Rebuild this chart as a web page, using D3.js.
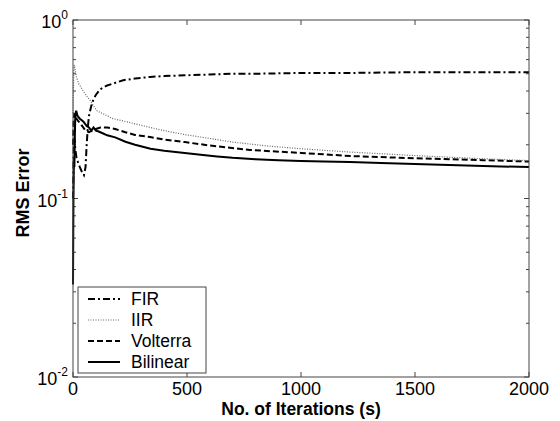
<!DOCTYPE html>
<html>
<head>
<meta charset="utf-8">
<script src="https://cdn.jsdelivr.net/npm/d3@7"></script>
<style>
  body { margin: 0; background: #fff; }
  svg { font-family: Arial, "Liberation Sans", sans-serif; }
</style>
</head>
<body>
<svg id="chart"></svg>
<script>
var width = 560,
  height = 421;

var margin = { top: 20, right: 31, bottom: 44, left: 73 };

// iterations / RMS error
var firIter = [0, 3, 6, 10, 15, 22, 30, 40, 48, 55, 60, 65, 70, 80, 90, 100, 120, 150, 175, 220, 272, 338, 400, 491, 600, 700, 800, 1000, 1215, 1500, 1800, 2000];
var firErr = [0.1, 0.19, 0.22, 0.19, 0.17, 0.16, 0.15, 0.14, 0.135, 0.15, 0.2, 0.25, 0.29, 0.33, 0.36, 0.38, 0.41, 0.43, 0.44, 0.46, 0.47, 0.48, 0.485, 0.49, 0.495, 0.5, 0.5, 0.505, 0.505, 0.51, 0.51, 0.51];

var iirIter = [0, 2, 4, 6, 9, 15, 25, 35, 45, 60, 75, 90, 105, 140, 175, 220, 272, 338, 400, 491, 600, 700, 850, 1000, 1215, 1500, 1750, 2000];
var iirErr = [0.3, 0.42, 0.52, 0.56, 0.53, 0.48, 0.44, 0.42, 0.4, 0.375, 0.355, 0.33, 0.31, 0.295, 0.28, 0.272, 0.262, 0.25, 0.24, 0.228, 0.217, 0.207, 0.197, 0.19, 0.182, 0.174, 0.168, 0.163];

var volIter = [0, 3, 6, 10, 15, 25, 40, 55, 70, 85, 100, 120, 150, 185, 230, 272, 338, 400, 491, 600, 776, 1000, 1215, 1500, 1800, 2000];
var volErr = [0.2, 0.28, 0.3, 0.29, 0.28, 0.27, 0.255, 0.24, 0.235, 0.24, 0.245, 0.25, 0.25, 0.245, 0.235, 0.227, 0.221, 0.214, 0.207, 0.198, 0.187, 0.18, 0.173, 0.168, 0.164, 0.161];

var bilIter = [0, 2, 4, 6, 8, 10, 14, 20, 30, 45, 60, 70, 80, 90, 100, 110, 130, 150, 185, 230, 272, 340, 400, 490, 560, 632, 700, 800, 900, 1000, 1100, 1215, 1350, 1500, 1650, 1800, 2000];
var bilErr = [0.033, 0.1, 0.17, 0.15, 0.22, 0.29, 0.31, 0.29, 0.28, 0.27, 0.255, 0.25, 0.24, 0.25, 0.24, 0.238, 0.232, 0.226, 0.22, 0.208, 0.2, 0.19, 0.185, 0.18, 0.176, 0.172, 0.169, 0.166, 0.164, 0.162, 0.161, 0.16, 0.158, 0.156, 0.154, 0.152, 0.15];

var names = ['FIR', 'IIR', 'Volterra', 'Bilinear'];
var xTicks = [0, 500, 1000, 1500, 2000];
var yDecades = [0.01, 0.1, 1];

var series = [
  { name: names[0], iter: firIter, err: firErr, dash: '7,3,2,3', color: '#000', w: 2 },
  { name: names[1], iter: iirIter, err: iirErr, dash: '1,1.5', color: '#666', w: 1.2 },
  { name: names[2], iter: volIter, err: volErr, dash: '6,3', color: '#000', w: 2 },
  { name: names[3], iter: bilIter, err: bilErr, dash: null, color: '#000', w: 2 }
];

var svg = d3.select('#chart')
  .attr('width', width)
  .attr('height', height);

var x = d3.scaleLinear()
  .domain([0, 2000])
  .range([margin.left, width - margin.right]);

var y = d3.scaleLog()
  .domain([0.01, 1])
  .range([height - margin.bottom, margin.top]);

var x0 = x.range()[0], x1 = x.range()[1];
var y0 = y.range()[0], y1 = y.range()[1];

// minor log ticks (2..9 in each decade)
var minor = [];
[0.01, 0.1].forEach(function(d) {
  for (var k = 2; k <= 9; k++) minor.push(d * k);
});

var ticks = svg.append('g')
  .attr('stroke', '#444')
  .attr('stroke-width', 1);

xTicks.forEach(function(t) {
  ticks.append('line').attr('x1', x(t)).attr('x2', x(t)).attr('y1', y0).attr('y2', y0 - 5);
  ticks.append('line').attr('x1', x(t)).attr('x2', x(t)).attr('y1', y1).attr('y2', y1 + 5);
});
yDecades.forEach(function(t) {
  ticks.append('line').attr('x1', x0).attr('x2', x0 + 5).attr('y1', y(t)).attr('y2', y(t));
  ticks.append('line').attr('x1', x1).attr('x2', x1 - 5).attr('y1', y(t)).attr('y2', y(t));
});
minor.forEach(function(t) {
  ticks.append('line').attr('x1', x0).attr('x2', x0 + 3).attr('y1', y(t)).attr('y2', y(t));
  ticks.append('line').attr('x1', x1).attr('x2', x1 - 3).attr('y1', y(t)).attr('y2', y(t));
});

var line = d3.line()
  .x(function(d) { return x(d[0]); })
  .y(function(d) { return y(d[1]); });

svg.append('g')
  .selectAll('path')
  .data(series.slice().reverse())
  .enter().append('path')
  .attr('fill', 'none')
  .attr('stroke', function(d) { return d.color; })
  .attr('stroke-width', function(d) { return d.w; })
  .attr('stroke-dasharray', function(d) { return d.dash; })
  .attr('d', function(d) { return line(d3.zip(d.iter, d.err)); });

// frame
svg.append('rect')
  .attr('x', x0)
  .attr('y', y1)
  .attr('width', x1 - x0)
  .attr('height', y0 - y1)
  .attr('fill', 'none')
  .attr('stroke', '#444')
  .attr('stroke-width', 1);

// tick labels
svg.append('g')
  .selectAll('text')
  .data(xTicks)
  .enter().append('text')
  .attr('x', function(d) { return x(d); })
  .attr('y', y0 + 18)
  .attr('text-anchor', 'middle')
  .attr('font-size', 18)
  .text(function(d) { return d; });

var yl = svg.append('g')
  .selectAll('text')
  .data(yDecades)
  .enter().append('text')
  .attr('x', x0 - 5)
  .attr('y', function(d) { return y(d) + 8; })
  .attr('text-anchor', 'end')
  .attr('font-size', 18);
yl.append('tspan').text('10');
yl.append('tspan')
  .attr('font-size', 12)
  .attr('dy', -9)
  .text(function(d) { return Math.round(Math.log10(d)); });

// axis titles
svg.append('text')
  .attr('x', (x0 + x1) / 2)
  .attr('y', height - 6)
  .attr('text-anchor', 'middle')
  .attr('font-size', 17.5)
  .attr('font-weight', 'bold')
  .text('No. of Iterations (s)');

svg.append('text')
  .attr('transform', 'translate(29,193) rotate(-90)')
  .attr('text-anchor', 'middle')
  .attr('font-size', 18)
  .attr('font-weight', 'bold')
  .text('RMS Error');

// legend
var legend = svg.append('g')
  .attr('transform', 'translate(78,287)');

legend.append('rect')
  .attr('width', 128)
  .attr('height', 86)
  .attr('fill', '#fff')
  .attr('stroke', '#444')
  .attr('stroke-width', 1);

var item = legend.selectAll('.item')
  .data(series)
  .enter().append('g')
  .attr('class', 'item')
  .attr('transform', function(d, i) { return 'translate(0,' + (12 + i * 21) + ')'; });

item.append('line')
  .attr('x1', 10)
  .attr('x2', 42)
  .attr('stroke', function(d) { return d.color; })
  .attr('stroke-width', function(d) { return d.w; })
  .attr('stroke-dasharray', function(d) { return d.dash; });

item.append('text')
  .attr('x', 53)
  .attr('y', 6)
  .attr('font-size', 17.5)
  .text(function(d) { return d.name; });
</script>
</body>
</html>
